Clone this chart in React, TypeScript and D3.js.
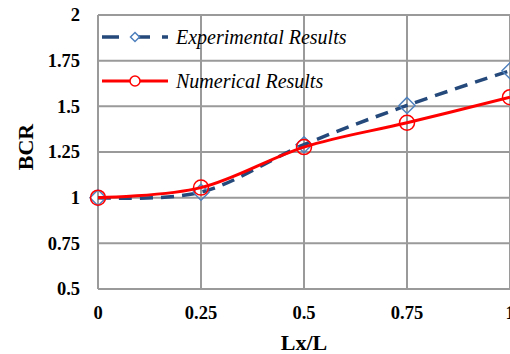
import * as d3 from "d3";

const xValues = [0, 0.25, 0.5, 0.75, 1];
const experimental = [1.0, 1.03, 1.29, 1.505, 1.695];
const numerical = [1.0, 1.055, 1.277, 1.41, 1.55];
const xTickValues = [0, 0.25, 0.5, 0.75, 1];
const xTickLabels = ["0", "0.25", "0.5", "0.75", "1"];
const yTickValues = [0.5, 0.75, 1, 1.25, 1.5, 1.75, 2];
const yTickLabels = ["0.5", "0.75", "1", "1.25", "1.5", "1.75", "2"];

const width = 510;
const height = 354;
const margin = { top: 15, right: 0, bottom: 65, left: 98 };

const serif = "'Liberation Serif', 'Times New Roman', serif";
const gridColor = "#9a9a9a";
const blue = "#24497a";
const lightBlue = "#4f81bd";
const red = "#ff0000";

export default function App() {
  const x = d3
    .scaleLinear()
    .domain([0, 1])
    .range([margin.left, width - margin.right]);
  const y = d3
    .scaleLinear()
    .domain([0.5, 2])
    .range([height - margin.bottom, margin.top]);

  const line = d3
    .line<number>()
    .x((_, i) => x(xValues[i]))
    .y((d) => y(d))
    .curve(d3.curveCardinal.tension(0));

  const diamond = (cx: number, cy: number, r: number) =>
    `M${cx},${cy - r}L${cx + r},${cy}L${cx},${cy + r}L${cx - r},${cy}Z`;

  return (
    <svg
      width={width}
      height={height}
      style={{ position: "absolute", left: 0, top: 0, background: "#fff" }}
    >
      {/* grid */}
      {yTickValues.map((v) => (
        <line
          key={`gy${v}`}
          x1={x(0)}
          x2={x(1)}
          y1={y(v)}
          y2={y(v)}
          stroke={gridColor}
          strokeWidth={2}
        />
      ))}
      {xTickValues.map((v) => (
        <line
          key={`gx${v}`}
          x1={x(v)}
          x2={x(v)}
          y1={y(0.5)}
          y2={y(2)}
          stroke={gridColor}
          strokeWidth={2}
        />
      ))}

      {/* y tick labels */}
      {yTickValues.map((v, i) => (
        <text
          key={`ty${v}`}
          x={80}
          y={y(v)}
          dy="0.34em"
          textAnchor="end"
          fontFamily={serif}
          fontWeight="bold"
          fontSize={18.5}
        >
          {yTickLabels[i]}
        </text>
      ))}
      {/* x tick labels */}
      {xTickValues.map((v, i) => (
        <text
          key={`tx${v}`}
          x={x(v)}
          y={319}
          textAnchor="middle"
          fontFamily={serif}
          fontWeight="bold"
          fontSize={18.5}
        >
          {xTickLabels[i]}
        </text>
      ))}

      {/* axis titles */}
      <text
        x={304}
        y={350}
        textAnchor="middle"
        fontFamily={serif}
        fontWeight="bold"
        fontSize={22}
      >
        Lx/L
      </text>
      <text
        transform={`translate(33, 147) rotate(-90)`}
        textAnchor="middle"
        fontFamily={serif}
        fontWeight="bold"
        fontSize={22}
      >
        BCR
      </text>

      {/* series */}
      <path
        d={line(experimental) || ""}
        fill="none"
        stroke={blue}
        strokeWidth={3.5}
        strokeDasharray="13 8"
      />
      {experimental.map((v, i) => (
        <path
          key={`d${i}`}
          d={diamond(x(xValues[i]), y(v), 8)}
          fill="none"
          stroke={lightBlue}
          strokeWidth={1.5}
        />
      ))}
      <path
        d={line(numerical) || ""}
        fill="none"
        stroke={red}
        strokeWidth={3}
      />
      {numerical.map((v, i) => (
        <circle
          key={`c${i}`}
          cx={x(xValues[i])}
          cy={y(v)}
          r={7.5}
          fill="none"
          stroke={red}
          strokeWidth={1.5}
        />
      ))}

      {/* legend */}
      <g>
        <line x1={102} x2={168} y1={37} y2={37} stroke={blue} strokeWidth={3.5} strokeDasharray="17 12 19 12" />
        <path d={diamond(135, 37, 4.5)} fill="#fff" stroke={lightBlue} strokeWidth={1.5} />
        <text x={176} y={44} fontFamily={serif} fontStyle="italic" fontSize={20}>
          Experimental Results
        </text>
        <line x1={102} x2={168} y1={81} y2={81} stroke={red} strokeWidth={3} />
        <circle cx={135} cy={81} r={5} fill="#fff" stroke={red} strokeWidth={1.5} />
        <text x={176} y={88} fontFamily={serif} fontStyle="italic" fontSize={20}>
          Numerical Results
        </text>
      </g>
    </svg>
  );
}
